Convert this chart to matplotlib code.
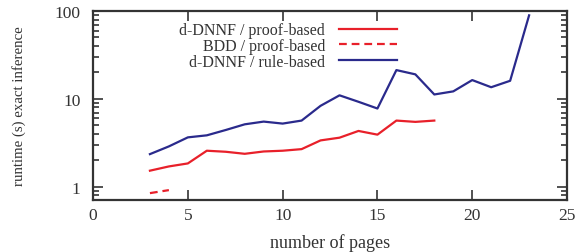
import matplotlib
matplotlib.use("Agg")
import matplotlib.pyplot as plt
import numpy as np

pages_rule = [3, 4, 5, 6, 7, 8, 9, 10, 11, 12, 13, 14, 15, 16, 17, 18, 19, 20, 21, 22, 23]
dnnf_rule = [2.36, 2.89, 3.66, 3.86, 4.44, 5.15, 5.53, 5.25, 5.68, 8.36, 11.0, 9.29, 7.79,
             21.3, 19.05, 11.25, 12.2, 16.4, 13.6, 16.1, 89.3]
pages_proof = [3, 4, 5, 6, 7, 8, 9, 10, 11, 12, 13, 14, 15, 16, 17, 18]
dnnf_proof = [1.53, 1.71, 1.85, 2.58, 2.51, 2.38, 2.53, 2.58, 2.69, 3.38, 3.63, 4.33, 3.93,
              5.68, 5.49, 5.68]
pages_bdd = [3, 4]
bdd_proof = [0.85, 0.92]
xticks = [0, 5, 10, 15, 20, 25]

plt.rcParams['font.family'] = ['Liberation Serif', 'DejaVu Serif']
plt.rcParams['font.size'] = 12.5

red = '#e8202a'
blue = '#2a2a8c'
grey = '#333333'

fig = plt.figure(figsize=(5.78, 2.53), dpi=100)
ax = fig.add_axes([0.161, 0.2055, 0.82, 0.747])

ax.plot(pages_proof, dnnf_proof, color=red, lw=1.6, label='d-DNNF / proof-based')
ax.plot(pages_bdd, bdd_proof, color=red, lw=1.6, ls=(0, (3.5, 2.2)), label='BDD / proof-based')
ax.plot(pages_rule, dnnf_rule, color=blue, lw=1.6, label='d-DNNF / rule-based')

ax.set_yscale('log')
ax.set_xlim(0, 25)
ax.set_ylim(0.71, 100)
ax.set_xticks(xticks)
ax.set_yticks([1, 10, 100])
ax.set_yticklabels(['1', '10', '100'])
ax.yaxis.set_minor_locator(matplotlib.ticker.LogLocator(base=10, subs=np.arange(2, 10)))
ax.yaxis.set_minor_formatter(matplotlib.ticker.NullFormatter())

ax.tick_params(which='both', direction='in', top=True, right=True, colors=grey,
               labelcolor=grey, width=1.2)
ax.tick_params(which='major', length=7)
ax.tick_params(axis='x', which='major', pad=5)
ax.tick_params(axis='y', which='major', pad=9)
ax.tick_params(which='minor', length=4)
for s in ax.spines.values():
    s.set_linewidth(1.6)
    s.set_color(grey)

ax.set_xlabel('number of pages', color=grey, labelpad=7, fontsize=13)
ax.set_ylabel('runtime (s) exact inference', color=grey, fontsize=10.7)
ax.yaxis.set_label_coords(-0.142, 0.5)

leg = ax.legend(loc='upper right', bbox_to_anchor=(0.641, 0.94), frameon=False,
                markerfirst=False, handlelength=3.6, handletextpad=0.9,
                labelspacing=-0.02, borderpad=0.0, borderaxespad=0,
                prop={'size': 11.5})
for t in leg.get_texts():
    t.set_color(grey)

fig.savefig('out.png', dpi=100)
